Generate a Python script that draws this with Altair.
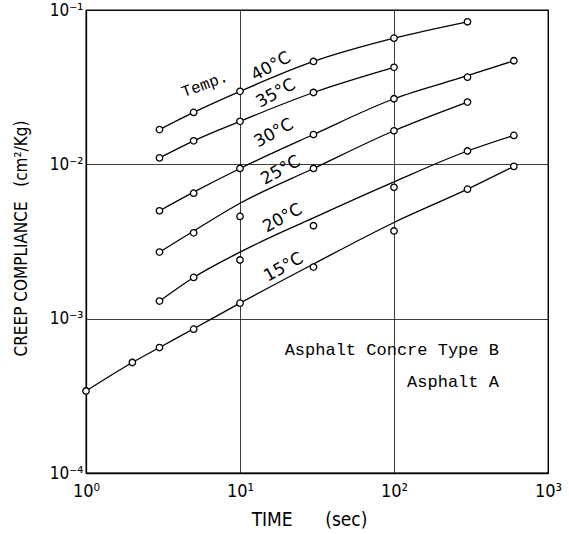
import altair as alt
import pandas as pd

# ---- data ----
series_names = ["15°C", "20°C", "25°C", "30°C", "35°C", "40°C"]

times_15 = [1, 2, 3, 5, 10, 30, 100, 300, 600]
pts_15 = [0.00034, 0.00052, 0.00065, 0.000855, 0.00126, 0.00216, 0.0037, 0.0069, 0.0097]
fit_15 = [0.00034, 0.00052, 0.00065, 0.00086, 0.00126, 0.00226, 0.0042, 0.0069, 0.0097]

times_20 = [3, 5, 10, 30, 100, 300, 600]
pts_20 = [0.0013, 0.00185, 0.0024, 0.0040, 0.0071, 0.0122, 0.0154]
fit_20 = [0.0013, 0.00185, 0.0027, 0.0045, 0.0077, 0.0122, 0.0154]

times_25 = [3, 5, 10, 30, 100, 300]
pts_25 = [0.0027, 0.0036, 0.0046, 0.0094, 0.0165, 0.0253]
fit_25 = [0.0027, 0.0037, 0.0056, 0.0094, 0.0165, 0.0253]

times_30 = [3, 5, 10, 30, 100, 300, 600]
pts_30 = [0.0050, 0.0065, 0.0094, 0.0156, 0.0266, 0.0367, 0.0469]
fit_30 = [0.0050, 0.0066, 0.0094, 0.0156, 0.0266, 0.0375, 0.0469]

times_35 = [3, 5, 10, 30, 100]
pts_35 = [0.0110, 0.0142, 0.0190, 0.0292, 0.0425]
fit_35 = [0.0110, 0.0142, 0.0190, 0.0292, 0.0425]

times_40 = [3, 5, 10, 30, 100, 300]
pts_40 = [0.0168, 0.0217, 0.0297, 0.0464, 0.0657, 0.0839]
fit_40 = [0.0168, 0.0217, 0.0297, 0.0464, 0.0657, 0.0839]

label_texts = ["Temp.", "40°C", "35°C", "30°C", "25°C", "20°C", "15°C"]
label_t = [5.9, 15.9, 17.1, 16.6, 18.4, 18.9, 19.2]
label_c = [0.033, 0.043, 0.0288, 0.0159, 0.00914, 0.00447, 0.00215]

note_texts = ["Asphalt Concre Type B", "Asphalt A"]
note_t = [480, 480]
note_c = [0.00063, 0.00039]

x_ticks = [1, 10, 100, 1000]
x_tick_labels = ["10⁰", "10¹", "10²", "10³"]
y_ticks = [0.0001, 0.001, 0.01, 0.1]
y_tick_labels = ["10⁻⁴", "10⁻³", "10⁻²", "10⁻¹"]

NB = "\u00a0"
x_title = "TIME" + NB * 6 + "(sec)"
y_title = "CREEP COMPLIANCE" + NB * 3 + "(cm²/Kg)"

# ---- build tables ----
rows = []
for name, ts, ps, fs in zip(
    series_names,
    [times_15, times_20, times_25, times_30, times_35, times_40],
    [pts_15, pts_20, pts_25, pts_30, pts_35, pts_40],
    [fit_15, fit_20, fit_25, fit_30, fit_35, fit_40],
):
    for t, p, f in zip(ts, ps, fs):
        rows.append({"series": name, "t": t, "c": p, "fit": f})
df = pd.DataFrame(rows)

labels_df = pd.DataFrame({"text": label_texts, "t": label_t, "c": label_c})
notes_df = pd.DataFrame({"text": note_texts, "t": note_t, "c": note_c})


def label_expr(vals, labs):
    expr = "'" + labs[-1] + "'"
    for v, l in reversed(list(zip(vals[:-1], labs[:-1]))):
        expr = f"datum.value < {v * 3} ? '{l}' : " + expr
    return expr


xscale = alt.Scale(type="log", domain=[1, 1000], nice=False)
yscale = alt.Scale(type="log", domain=[0.0001, 0.1], nice=False)

tick_font = "DejaVu Sans Condensed"

xaxis = alt.Axis(
    values=x_ticks,
    labelExpr=label_expr(x_ticks, x_tick_labels),
    grid=True,
    ticks=False,
    labelFont=tick_font,
    labelFontSize=18,
    labelColor="black",
    labelPadding=9,
    labelFlush=False,
    labelOverlap=False,
    title=x_title,
    titleFont=tick_font,
    titleFontSize=19,
    titleFontWeight="normal",
    titleColor="black",
    titleX=223,
    titleY=46,
    titleAlign="center",
    titleBaseline="middle",
)
yaxis = alt.Axis(
    values=y_ticks,
    labelExpr=label_expr(y_ticks, y_tick_labels),
    grid=True,
    ticks=False,
    labelFont=tick_font,
    labelFontSize=17,
    labelColor="black",
    labelPadding=3,
    labelFlush=False,
    labelOverlap=False,
    title=y_title,
    titleFont=tick_font,
    titleFontSize=17,
    titleFontWeight="normal",
    titleColor="black",
    titleAngle=270,
    titleX=-65,
    titleY=228,
    titleAlign="center",
    titleBaseline="middle",
)

base = alt.Chart(df)

lines = base.mark_line(color="black", strokeWidth=1.3, interpolate="monotone").encode(
    x=alt.X("t:Q", scale=xscale, axis=xaxis),
    y=alt.Y("fit:Q", scale=yscale, axis=yaxis),
    detail="series:N",
)

points = base.mark_point(
    shape="circle", size=42, filled=True, fill="white", stroke="black", strokeWidth=1.3, opacity=1
).encode(
    x=alt.X("t:Q", scale=xscale),
    y=alt.Y("c:Q", scale=yscale),
)

temp_label = alt.Chart(labels_df[labels_df["text"] == "Temp."]).mark_text(
    font="Liberation Mono", fontSize=16, angle=340, align="center", baseline="middle", color="black"
).encode(x=alt.X("t:Q", scale=xscale), y=alt.Y("c:Q", scale=yscale), text="text:N")

temp_labels = alt.Chart(labels_df[labels_df["text"] != "Temp."]).mark_text(
    font="DejaVu Sans", fontSize=17, angle=331, align="center", baseline="middle", color="black"
).encode(x=alt.X("t:Q", scale=xscale), y=alt.Y("c:Q", scale=yscale), text="text:N")

notes = alt.Chart(notes_df).mark_text(
    font="Liberation Mono", fontSize=17, align="right", baseline="middle", color="black"
).encode(x=alt.X("t:Q", scale=xscale), y=alt.Y("c:Q", scale=yscale), text="text:N")

chart = (
    alt.layer(lines, points, temp_label, temp_labels, notes)
    .properties(
        width=462,
        height=463,
        autosize=alt.AutoSizeParams(type="none"),
        padding={"left": 86, "top": 10, "right": 21, "bottom": 61},
        background="white",
    )
    .configure_view(stroke="black", strokeWidth=1.3)
    .configure_axis(
        domainColor="black",
        domainWidth=1.3,
        gridColor="black",
        gridWidth=0.9,
        gridOpacity=0.85,
    )
)

chart.save("out.html", embed_options={"renderer": "svg", "actions": False})
